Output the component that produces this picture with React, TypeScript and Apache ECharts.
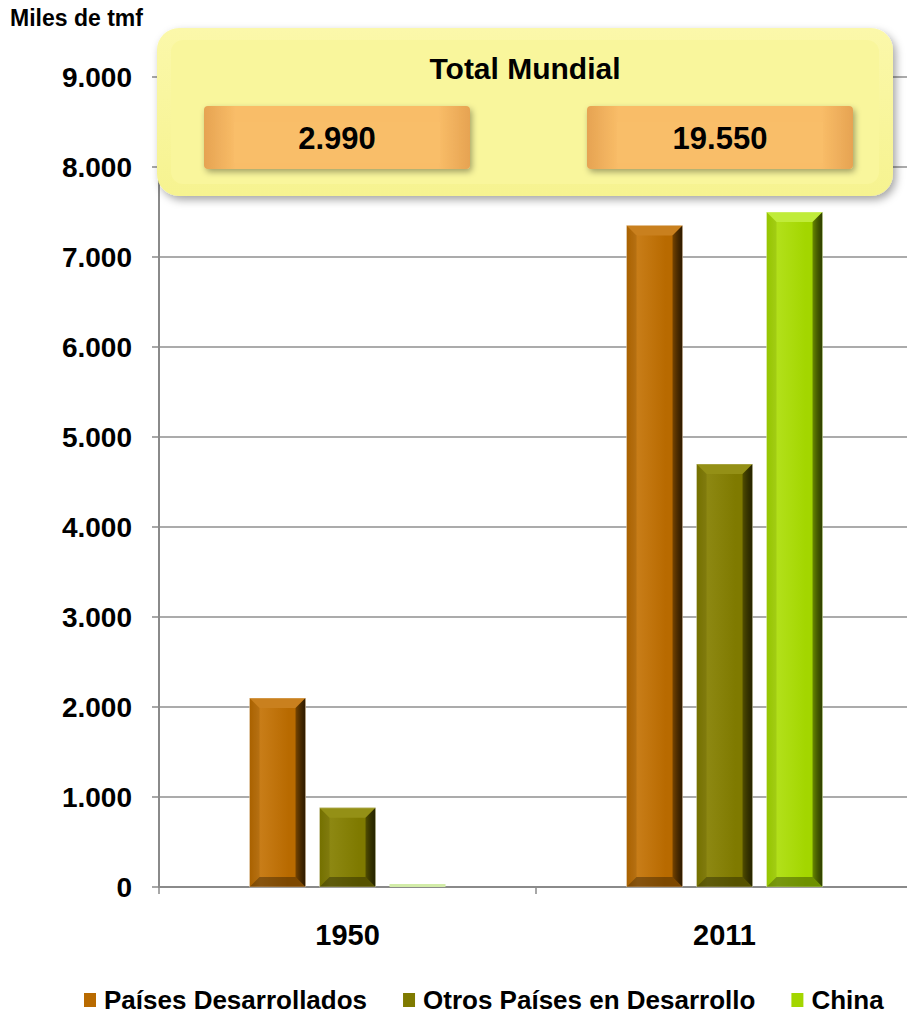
import React, { useEffect, useRef } from "react";
import * as echarts from "echarts";

const categories = ["1950", "2011"];
const seriesNames = ["Países Desarrollados", "Otros Países en Desarrollo", "China"];
const desarrollados = [2100, 7350];
const otrosDesarrollo = [880, 4700];
const china = [10, 7500];
const totals = [2990, 19550];
const yMax = 9000;
const yStep = 1000;
const unitLabel = "Miles de tmf";
const boxTitle = "Total Mundial";

const FONT = "'Liberation Sans', Arial, sans-serif";

const fmt = (v: number) => String(v).replace(/\B(?=(\d{3})+(?!\d))/g, ".");

const palette = [
  { base: "#b86a00", light: "#c87d18", top: "#c9801e", dark: "#2e1a00", thin: "#d9a866" },
  { base: "#7f7a00", light: "#8d8812", top: "#949016", dark: "#262400", thin: "#c8c680" },
  { base: "#a3d600", light: "#b2e01a", top: "#c0ec3a", dark: "#2f4000", thin: "#d2eca8" },
];

export default function App() {
  const ref = useRef<HTMLDivElement>(null);

  useEffect(() => {
    document.body.style.margin = "0";
    if (!ref.current) return;
    const chart = echarts.init(ref.current, undefined, { renderer: "svg" });

    const data = [desarrollados, otrosDesarrollo, china];
    const BAR_W = 56;
    const STEP = 70;

    const makeRender = (si: number) => (params: any, api: any) => {
      const idx = api.value(0);
      const val = api.value(1);
      const base = api.coord([idx, 0]);
      const topPt = api.coord([idx, val]);
      const cx = base[0] + (si - 1) * STEP;
      const x = cx - BAR_W / 2;
      const w = BAR_W;
      let h = base[1] - topPt[1];
      const p = palette[si];
      if (h < 4) {
        return {
          type: "rect",
          shape: { x, y: base[1] - 3, width: w, height: 3 },
          style: { fill: p.thin },
        };
      }
      const y = base[1] - h;
      const b = Math.min(10, h / 2);
      return {
        type: "group",
        children: [
          {
            type: "rect",
            shape: { x, y, width: w, height: h },
            style: {
              fill: new echarts.graphic.LinearGradient(0, 0, 1, 0, [
                { offset: 0, color: p.base },
                { offset: 0.2, color: p.light },
                { offset: 0.7, color: p.base },
                { offset: 1, color: p.base },
              ]),
            },
          },
          {
            type: "polygon",
            shape: { points: [[x, y], [x + w, y], [x + w - b, y + b], [x + b, y + b]] },
            style: { fill: p.top },
          },
          {
            type: "polygon",
            shape: { points: [[x, y + h], [x + w, y + h], [x + w - b, y + h - b], [x + b, y + h - b]] },
            style: { fill: "rgba(0,0,0,0.32)" },
          },
          {
            type: "polygon",
            shape: { points: [[x + w, y], [x + w, y + h], [x + w - b, y + h - b], [x + w - b, y + b]] },
            style: {
              fill: new echarts.graphic.LinearGradient(0, 0, 1, 0, [
                { offset: 0, color: "rgba(0,0,0,0.35)" },
                { offset: 1, color: p.dark },
              ]),
            },
          },
          {
            type: "polygon",
            shape: { points: [[x, y], [x + b, y + b], [x + b, y + h - b], [x, y + h]] },
            style: { fill: "rgba(0,0,0,0.08)" },
          },
          {
            type: "rect",
            shape: { x, y, width: w, height: h },
            style: { fill: "none", stroke: "rgba(255,255,255,0.35)", lineWidth: 1 },
          },
        ],
      };
    };

    const boxX = 157, boxY = 28, boxW = 736, boxH = 168;
    const btnW = 266, btnH = 63, btnY = 106;
    const btnXs = [204, 587];

    const graphic: any[] = [
      {
        type: "rect",
        z: 100,
        shape: { x: boxX, y: boxY, width: boxW, height: boxH, r: 22 },
        style: {
          fill: new echarts.graphic.LinearGradient(0, 0, 0, 1, [
            { offset: 0, color: "#fbf8aa" },
            { offset: 1, color: "#f6f390" },
          ]),
          shadowBlur: 8,
          shadowOffsetX: 3,
          shadowOffsetY: 4,
          shadowColor: "rgba(0,0,0,0.35)",
        },
      },
      {
        type: "rect",
        z: 101,
        shape: { x: boxX + 14, y: boxY + 12, width: boxW - 28, height: boxH - 24, r: 12 },
        style: { fill: "#f9f69c" },
      },
      {
        type: "text",
        z: 102,
        x: boxX + boxW / 2,
        y: 68,
        style: {
          text: boxTitle,
          fill: "#000",
          font: `bold 30px ${FONT}`,
          align: "center",
          verticalAlign: "middle",
        },
      },
    ];
    totals.forEach((t, i) => {
      const x = btnXs[i];
      graphic.push(
        {
          type: "rect",
          z: 102,
          shape: { x, y: btnY, width: btnW, height: btnH, r: 4 },
          style: {
            fill: new echarts.graphic.LinearGradient(0, 0, 1, 0, [
              { offset: 0, color: "#e6a352" },
              { offset: 0.12, color: "#f9bd68" },
              { offset: 0.88, color: "#f9bd68" },
              { offset: 1, color: "#e6a352" },
            ]),
            shadowBlur: 6,
            shadowOffsetX: 2,
            shadowOffsetY: 3,
            shadowColor: "rgba(0,0,0,0.35)",
          },
        },
        {
          type: "rect",
          z: 103,
          shape: { x: x + 30, y: btnY + 16, width: btnW - 60, height: btnH - 22, r: 0 },
          style: { fill: "#f9be69" },
        },
        {
          type: "text",
          z: 104,
          x: x + btnW / 2,
          y: btnY + btnH / 2 + 1,
          style: {
            text: fmt(t),
            fill: "#000",
            font: `bold 31px ${FONT}`,
            align: "center",
            verticalAlign: "middle",
          },
        }
      );
    });
    graphic.push({
      type: "text",
      z: 104,
      x: 10,
      y: 18,
      style: { text: unitLabel, fill: "#000", font: `bold 23px ${FONT}`, verticalAlign: "middle" },
    });

    chart.setOption({
      animation: false,
      backgroundColor: "#ffffff",
      textStyle: { fontFamily: FONT },
      grid: { left: 159, top: 77, width: 754, height: 810, containLabel: false, outerBoundsMode: "none" },
      legend: {
        data: seriesNames.map((n, i) => ({ name: n, itemStyle: { color: palette[i].base } })),
        left: 84,
        top: 987,
        icon: "rect",
        itemWidth: 12,
        itemHeight: 14,
        itemGap: 36,
        padding: 0,
        textStyle: { fontSize: 26, fontWeight: "bold", color: "#000", fontFamily: FONT, padding: [0, 0, 0, 3] },
      },
      xAxis: {
        type: "category",
        data: categories,
        axisLine: { lineStyle: { color: "#8a8a8a", width: 2 } },
        axisTick: { show: true, alignWithLabel: false, length: 7, lineStyle: { color: "#8a8a8a", width: 1.5 } },
        axisLabel: { fontSize: 29, fontWeight: "bold", color: "#000", margin: 33, fontFamily: FONT },
      },
      yAxis: {
        type: "value",
        min: 0,
        max: yMax,
        interval: yStep,
        axisLine: { show: true, lineStyle: { color: "#8a8a8a", width: 2 } },
        axisTick: { show: true, length: 7, lineStyle: { color: "#8a8a8a", width: 1.5 } },
        splitLine: { lineStyle: { color: "#8f8f8f", width: 1.5 } },
        axisLabel: {
          fontSize: 28,
          fontWeight: "bold",
          color: "#000",
          margin: 27,
          fontFamily: FONT,
          formatter: (v: number) => fmt(v),
        },
      },
      series: seriesNames.map((name, i) => ({
        name,
        type: "custom",
        renderItem: makeRender(i),
        encode: { x: 0, y: 1 },
        itemStyle: { color: palette[i].base },
        data: data[i].map((v, ci) => [ci, v]),
        z: 3,
      })),
      graphic,
    });

    return () => chart.dispose();
  }, []);

  return <div ref={ref} style={{ width: 907, height: 1018 }} />;
}
